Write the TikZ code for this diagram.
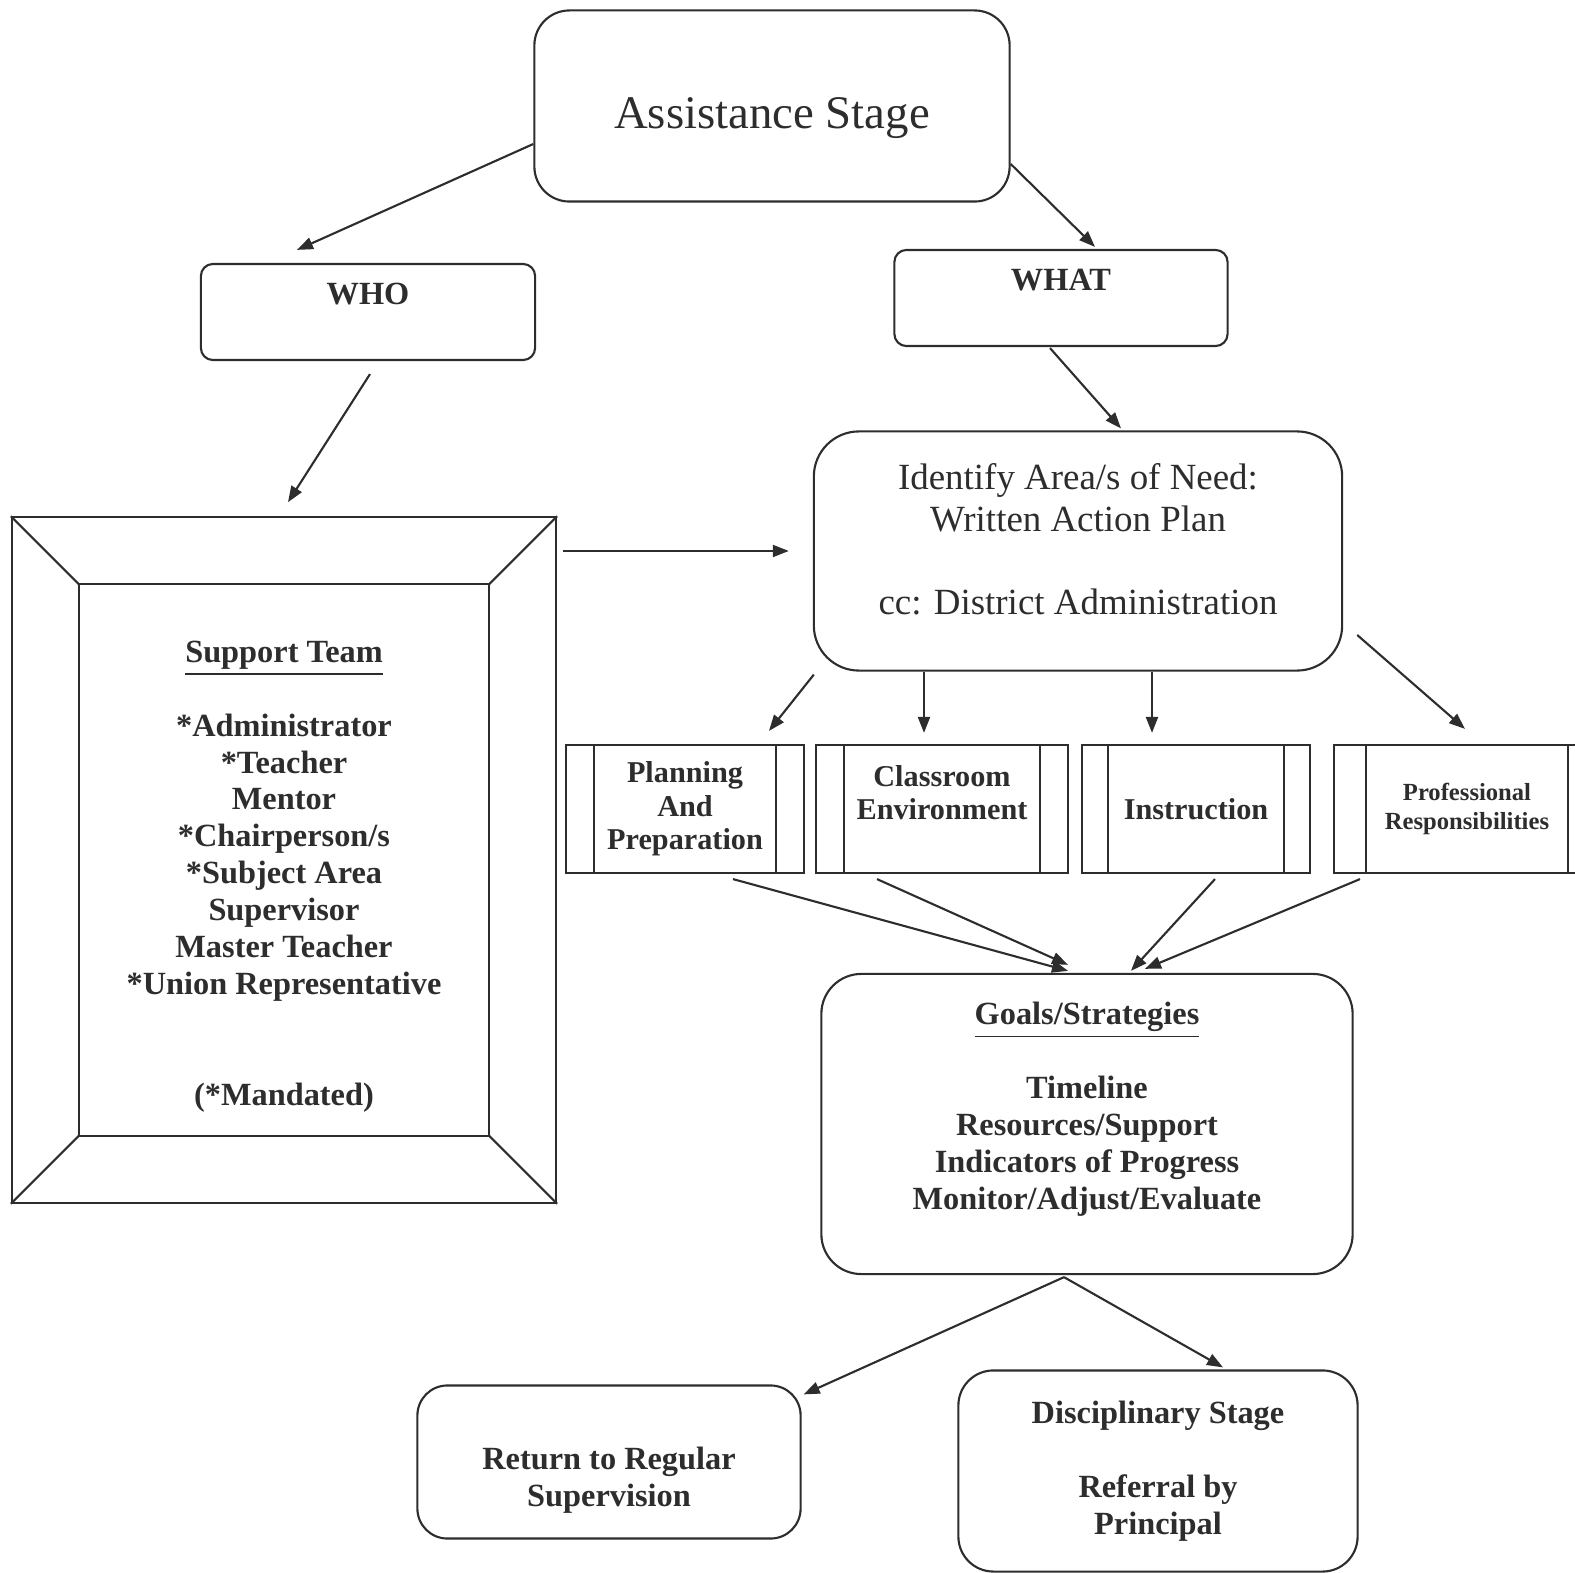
\documentclass[tikz,border=0pt]{standalone}
\usepackage[RGB]{xcolor}
\usepackage{fontspec}
\setmainfont{Liberation Serif}
\usetikzlibrary{calc,arrows.meta}
\definecolor{ink}{RGB}{45,45,45}
\newcommand{\bodyfont}{\fontsize{9.2}{10.5}\selectfont\bfseries}
\newcommand{\tabfont}{\fontsize{8.6}{9.5}\selectfont\bfseries}
\newcommand{\drawbars}[2]{
    \draw[box] ($(#1.north west)+(#2,0)$)--($(#1.south west)+(#2,0)$);
    \draw[box] ($(#1.north east)+(-#2,0)$)--($(#1.south east)+(-#2,0)$);
}
\newcommand{\drawbevel}[2]{
    \draw[box] ($(#1.north west)+(#2,#2)$) rectangle ($(#1.south east)+(-#2,-#2)$);
    \draw[box] (#1.north west)--++(#2,#2) (#1.north east)--++(-#2,#2)
        (#1.south west)--++(#2,-#2) (#1.south east)--++(-#2,-#2);
}
\tikzset{
    box/.style={draw=ink, line width=0.6pt},
    roundbox/.style={box, rounded corners=#1, align=center, text=ink, inner sep=0pt},
    roundbox/.default=0.3cm,
    tabbox/.style={box, align=center, text=ink, inner sep=0pt, minimum height=1.28cm, font=\tabfont},
    link/.style={draw=ink, line width=0.6pt, -{Triangle[length=0.16cm,width=0.12cm]}}
}

\begin{document}
\begin{tikzpicture}[x=0.01cm,y=-0.01cm]
\useasboundingbox (0,0) rectangle (1575,1573);
\node[roundbox=0.35cm, minimum width=4.75cm, minimum height=1.91cm, font=\fontsize{13.3}{16}\selectfont] (assist) at (772,106) {\rule{0pt}{15.6pt}Assistance Stage};
\node[roundbox=0.12cm, minimum width=3.34cm, minimum height=0.96cm, font=\bodyfont] (who) at (368,312) {WHO\\~};
\node[roundbox=0.12cm, minimum width=3.33cm, minimum height=0.96cm, font=\bodyfont] (what) at (1061,298) {WHAT\\~};
\node[roundbox=0.45cm, minimum width=5.28cm, minimum height=2.39cm, font=\fontsize{10.5}{11.9}\selectfont] (ident) at (1078,551) {Identify Area/s of Need:\\Written Action Plan\\~\\cc: District Administration\rule[-6.8pt]{0pt}{0pt}};
\node[box, minimum width=5.44cm, minimum height=6.85cm, align=center, text=ink, inner sep=0pt, font=\bodyfont] (team) at (284,860)
    {\rule{0pt}{15.5pt}\underline{Support Team}\\~\\{}*Administrator\\{}*Teacher\\Mentor\\{}*Chairperson/s\\{}*Subject Area\\Supervisor\\Master Teacher\\{}*Union Representative\\~\\~\\(*Mandated)};
\drawbevel{team}{68}
\node[tabbox, minimum width=2.38cm] (plan) at (685,809) {Planning\\And\\Preparation};
\node[tabbox, minimum width=2.51cm] (class) at (942,809) {Classroom\\Environment\\~};
\node[tabbox, minimum width=2.28cm] (instr) at (1196,809) {Instruction};
\node[tabbox, minimum width=2.66cm, font=\fontsize{7}{8}\selectfont\bfseries] (prof) at (1467,809) {Professional\\Responsibilities};
\drawbars{plan}{29}
\drawbars{class}{29}
\drawbars{instr}{27}
\drawbars{prof}{33}
\node[roundbox=0.4cm, minimum width=5.31cm, minimum height=3.0cm, font=\bodyfont] (goals) at (1087,1124)
    {\underline{Goals/Strategies}\\~\\Timeline\\Resources/Support\\Indicators of Progress\\Monitor/Adjust/Evaluate\\~};
\node[roundbox=0.3cm, minimum width=3.83cm, minimum height=1.53cm, font=\bodyfont] (ret) at (609,1462) {\rule{0pt}{16.5pt}Return to Regular\\Supervision};
\node[roundbox=0.35cm, minimum width=3.99cm, minimum height=2.01cm, font=\bodyfont] (disc) at (1158,1471) {Disciplinary Stage\\~\\Referral by\\Principal};
% connectors
\draw[link] ($(assist.west)+(0,38)$) -- ($(who.north)+(-71,-13)$);
\draw[link] ($(assist.east)+(0,58)$) -- ($(what.north)+(34,-2)$);
\draw[link] ($(who.south)+(2,13)$) -- ($(team.north)+(4,-14)$);
\draw[link] ($(what.south)+(-11,1)$) -- ($(ident.north)+(43,-2)$);
\draw[link] ($(team.east |- ident.west)+(6,0)$) -- ($(ident.west)+(-24,0)$);
\draw[link] ($(ident.south west)+(1,3)$) -- ($(plan.north)+(84,-13)$);
\draw[link] ($(ident.south)+(-154,0)$) -- ($(class.north)+(-18,-11)$);
\draw[link] ($(ident.south)+(74,0)$) -- ($(instr.north)+(-44,-11)$);
\draw[link] ($(ident.east)+(14,84)$) -- ($(prof.north)+(-2,-15)$);
\draw[link] ($(plan.south)+(48,5)$) -- ($(goals.north)+(-19,-2)$);
\draw[link] ($(class.south)+(-65,5)$) -- ($(goals.north)+(-19,-8)$);
\draw[link] ($(instr.south)+(19,5)$) -- ($(goals.north)+(44,-2)$);
\draw[link] ($(prof.south)+(-107,5)$) -- ($(goals.north)+(58,-4)$);
\draw[link] ($(goals.south)+(-23,2)$) -- ($(ret.north east)+(2,10)$);
\draw[link] ($(goals.south)+(-23,2)$) -- ($(disc.north)+(65,-2)$);
\end{tikzpicture}
\end{document}
